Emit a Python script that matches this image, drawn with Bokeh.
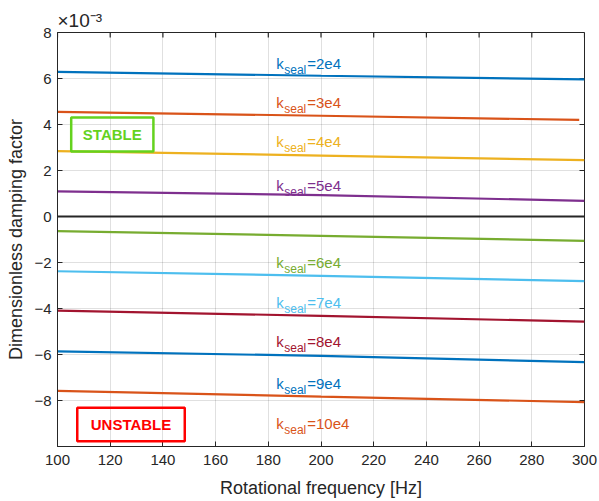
import math
from bokeh.plotting import figure
from bokeh.models import ColumnDataSource, FixedTicker, BoxAnnotation, Label, Range1d, Title
from bokeh.core.properties import value
from bokeh.embed import file_html
from bokeh.resources import INLINE

# ---- data (damping factor in units of 1e-3) ----
FREQ = [100, 200, 300]
FREQ_SHORT = [100, 200, 298]
K_LABELS = ["2e4", "3e4", "4e4", "5e4", "6e4", "7e4", "8e4", "9e4", "10e4"]
D_2E4 = [6.29, 6.12, 5.96]
D_3E4 = [4.55, 4.38, 4.20]
D_4E4 = [2.84, 2.65, 2.45]
D_5E4 = [1.09, 0.93, 0.68]
D_6E4 = [-0.64, -0.84, -1.06]
D_7E4 = [-2.38, -2.58, -2.81]
D_8E4 = [-4.09, -4.32, -4.57]
D_9E4 = [-5.86, -6.06, -6.33]
D_10E4 = [-7.58, -7.83, -8.07]
ZERO_X = [100, 300]
ZERO_Y = [0, 0]
# label anchor positions (data units)
LABEL_X = [183.0] * 9
LABEL_Y = [6.64, 4.94, 3.25, 1.33, -2.01, -3.75, -5.45, -7.27, -9.01]
X_TICKS = [100, 120, 140, 160, 180, 200, 220, 240, 260, 280, 300]
Y_TICKS = [-8, -6, -4, -2, 0, 2, 4, 6, 8]
X_MIN, X_MAX = 100, 300
Y_MIN, Y_MAX = -10, 8

COLORS = ["#0072BD", "#D95319", "#EDB120", "#7E2F8E", "#77AC30",
          "#4DBEEE", "#A2142F", "#0072BD", "#D95319"]
SERIES = [(FREQ, D_2E4), (FREQ_SHORT, D_3E4), (FREQ, D_4E4), (FREQ, D_5E4),
          (FREQ, D_6E4), (FREQ, D_7E4), (FREQ, D_8E4), (FREQ, D_9E4), (FREQ, D_10E4)]

FONT = "Liberation Sans"
AX = "#262626"

p = figure(width=599, height=501, output_backend="svg", toolbar_location=None,
           x_range=Range1d(X_MIN, X_MAX), y_range=Range1d(Y_MIN, Y_MAX),
           min_border_left=57, min_border_right=15, min_border_top=32, min_border_bottom=55)
p.background_fill_color = "white"
p.border_fill_color = "white"
p.outline_line_color = AX
p.outline_line_width = 1

# multiplier shown above the top-left corner
p.title = Title(text="\u00d710\u207b\u00b3", align="left", offset=0, standoff=3,
                text_font=FONT, text_font_size="19px", text_font_style="normal",
                text_color=AX)

for ax in (p.xaxis[0], p.yaxis[0]):
    ax.major_label_text_font = FONT
    ax.major_label_text_font_size = "15px"
    ax.major_label_text_color = AX
    ax.axis_label_text_font = FONT
    ax.axis_label_text_font_size = "18px"
    ax.axis_label_text_font_style = "normal"
    ax.axis_label_text_color = AX
    ax.axis_line_color = AX
    ax.major_tick_line_color = AX
    ax.major_tick_in = 5
    ax.major_tick_out = 0
    ax.minor_tick_line_color = None
p.xaxis[0].ticker = FixedTicker(ticks=X_TICKS)
p.yaxis[0].ticker = FixedTicker(ticks=Y_TICKS)
p.xaxis[0].axis_label = "Rotational frequency [Hz]"
p.yaxis[0].axis_label = "Dimensionless damping factor"
p.xaxis[0].major_label_standoff = 8
p.yaxis[0].major_label_standoff = 6
p.xaxis[0].axis_label_standoff = 10
p.yaxis[0].axis_label_standoff = 5

p.xgrid.ticker = FixedTicker(ticks=X_TICKS)
p.ygrid.ticker = FixedTicker(ticks=Y_TICKS)
p.grid.grid_line_color = "#000000"
p.grid.grid_line_alpha = 0.12

# inward ticks on top and right edges
p.ray(x=X_TICKS, y=[Y_MAX] * len(X_TICKS), length=5, length_units="screen",
      angle=-math.pi / 2, line_color=AX, line_width=1.2)
p.ray(x=[X_MAX] * len(Y_TICKS), y=Y_TICKS, length=5, length_units="screen",
      angle=math.pi, line_color=AX, line_width=1.2)

p.line(ZERO_X, ZERO_Y, line_color="#262626", line_width=2)
for (xs, ys), c in zip(SERIES, COLORS):
    p.line(xs, ys, line_color=c, line_width=2.2)

src = ColumnDataSource(dict(x=LABEL_X, y=LABEL_Y, c=COLORS,
                            k=["k"] * 9, sub=["seal"] * 9,
                            rest=["=" + s for s in K_LABELS]))
p.text("x", "y", text="k", source=src, text_color="c", text_font=value(FONT),
       text_font_size="15px", text_baseline="alphabetic")
p.text("x", "y", text="sub", source=src, text_color="c", text_font=value(FONT),
       text_font_size="12px", text_baseline="alphabetic", x_offset=8, y_offset=6)
p.text("x", "y", text="rest", source=src, text_color="c", text_font=value(FONT),
       text_font_size="15px", text_baseline="alphabetic", x_offset=31)

# region annotations
GREEN = "#64D21E"
RED = "#FF0000"
p.add_layout(BoxAnnotation(left=105.2, right=136.4, bottom=2.83, top=4.30,
                           fill_alpha=0, line_color=GREEN, line_alpha=1, line_width=2.5))
p.add_layout(Label(x=120.8, y=3.565, text="STABLE", text_color=GREEN, text_font=FONT,
                   text_font_size="15px", text_font_style="bold",
                   text_align="center", text_baseline="middle"))
p.add_layout(BoxAnnotation(left=107.5, right=148.3, bottom=-9.77, top=-8.32,
                           fill_alpha=0, line_color=RED, line_alpha=1, line_width=2.5))
p.add_layout(Label(x=127.9, y=-9.045, text="UNSTABLE", text_color=RED, text_font=FONT,
                   text_font_size="15px", text_font_style="bold",
                   text_align="center", text_baseline="middle"))

open("out.html", "w").write(file_html(p, INLINE))
